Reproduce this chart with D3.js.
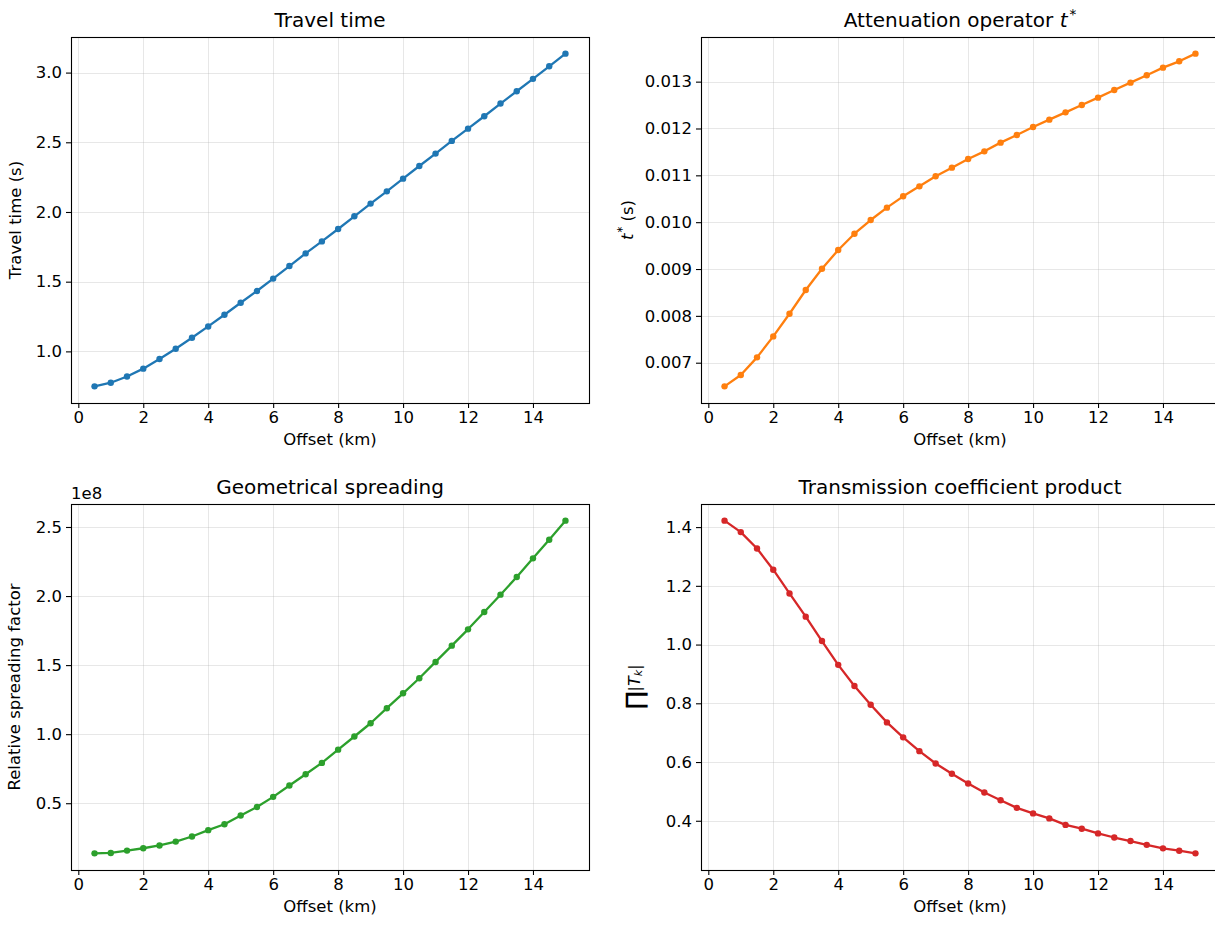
<!DOCTYPE html>
<html lang="en">
<head>
<meta charset="UTF-8">
<title>Ray quantities versus offset</title>
<script src="https://d3js.org/d3.v7.min.js"></script>
<style>
  body { margin: 0; background: white; }
  text { font-family: "DejaVu Sans", sans-serif; fill: #000; }
</style>
</head>
<body>
<script>
// offsets in km
var offsets = [0.5, 1.0, 1.5, 2.0, 2.5, 3.0, 3.5, 4.0, 4.5, 5.0,
               5.5, 6.0, 6.5, 7.0, 7.5, 8.0, 8.5, 9.0, 9.5, 10.0,
               10.5, 11.0, 11.5, 12.0, 12.5, 13.0, 13.5, 14.0, 14.5, 15.0];

var travelTime = [0.749, 0.775, 0.820, 0.876, 0.945, 1.019, 1.098, 1.179, 1.263, 1.349,
                  1.433, 1.522, 1.612, 1.703, 1.789, 1.878, 1.969, 2.060, 2.148, 2.239,
                  2.330, 2.419, 2.510, 2.598, 2.687, 2.778, 2.866, 2.955, 3.045, 3.136];

var tStar = [0.006495, 0.006737, 0.007114, 0.007562, 0.008046, 0.008552, 0.009007, 0.009406, 0.009754, 0.010046,
             0.010310, 0.010552, 0.010765, 0.010979, 0.011164, 0.011349, 0.011512, 0.011698, 0.011861, 0.012032,
             0.012189, 0.012345, 0.012502, 0.012658, 0.012822, 0.012979, 0.013135, 0.013299, 0.013434, 0.013598];

var spreading = [1.37e7, 1.40e7, 1.57e7, 1.74e7, 1.94e7, 2.22e7, 2.59e7, 3.05e7, 3.48e7, 4.11e7,
                 4.73e7, 5.46e7, 6.28e7, 7.10e7, 7.92e7, 8.88e7, 9.83e7, 1.079e8, 1.188e8, 1.296e8,
                 1.405e8, 1.523e8, 1.641e8, 1.759e8, 1.885e8, 2.010e8, 2.138e8, 2.273e8, 2.408e8, 2.546e8];

var transmission = [1.422, 1.383, 1.327, 1.255, 1.174, 1.095, 1.012, 0.931, 0.859, 0.795,
                    0.735, 0.684, 0.637, 0.595, 0.560, 0.527, 0.496, 0.470, 0.444, 0.425,
                    0.408, 0.386, 0.373, 0.357, 0.343, 0.331, 0.318, 0.306, 0.298, 0.289];

var xTicks = [0, 2, 4, 6, 8, 10, 12, 14];
var travelTicks = [1.0, 1.5, 2.0, 2.5, 3.0];
var tStarTicks = [0.007, 0.008, 0.009, 0.010, 0.011, 0.012, 0.013];
var spreadTicks = [0.5e8, 1.0e8, 1.5e8, 2.0e8, 2.5e8];
var transTicks = [0.4, 0.6, 0.8, 1.0, 1.2, 1.4];

var svg = d3.select("body").append("svg")
    .attr("width", 1215).attr("height", 926)
    .style("background", "white");

var pw = 518, ph = 366;
var tickFont = "16.5px", labelFont = "16.5px", titleFont = "20px";

function padded(ext) {
  var m = (ext[1] - ext[0]) * 0.05;
  return [ext[0] - m, ext[1] + m];
}

function panel(o) {
  var g = svg.append("g").attr("transform", "translate(" + o.left + "," + o.top + ")");

  var x = d3.scaleLinear().domain(padded(d3.extent(offsets))).range([0, pw]);
  var y = d3.scaleLinear().domain(padded(d3.extent(o.values))).range([ph, 0]);

  // grid
  g.append("g").selectAll("line").data(xTicks).join("line")
    .attr("x1", d => Math.round(x(d)) + 0.5).attr("x2", d => Math.round(x(d)) + 0.5)
    .attr("y1", 0).attr("y2", ph)
    .attr("stroke", "#b0b0b0").attr("stroke-opacity", 0.3).attr("stroke-width", 1);
  g.append("g").selectAll("line").data(o.ticks).join("line")
    .attr("y1", d => Math.round(y(d)) + 0.5).attr("y2", d => Math.round(y(d)) + 0.5)
    .attr("x1", 0).attr("x2", pw)
    .attr("stroke", "#b0b0b0").attr("stroke-opacity", 0.3).attr("stroke-width", 1);

  // axes
  var xAxis = g.append("g").attr("transform", "translate(0," + ph + ")")
    .call(d3.axisBottom(x).tickValues(xTicks).tickFormat(d3.format("d")).tickSize(5).tickPadding(3));
  var yAxis = g.append("g")
    .call(d3.axisLeft(y).tickValues(o.ticks).tickFormat(o.fmt).tickSize(5).tickPadding(4));
  [xAxis, yAxis].forEach(function (a) {
    a.select(".domain").remove();
    a.selectAll("line").attr("stroke", "#000").attr("stroke-width", 1.1);
    a.selectAll("text").attr("font-size", tickFont).attr("font-family", "DejaVu Sans").attr("fill", "#222");
  });

  // line + markers
  var pts = offsets.map((d, i) => [d, o.values[i]]);
  g.append("path").datum(pts)
    .attr("fill", "none").attr("stroke", o.color).attr("stroke-width", 2.3)
    .attr("stroke-linejoin", "round")
    .attr("d", d3.line().x(d => x(d[0])).y(d => y(d[1])));
  g.append("g").selectAll("circle").data(pts).join("circle")
    .attr("cx", d => x(d[0])).attr("cy", d => y(d[1])).attr("r", 3.2)
    .attr("fill", o.color);

  // frame
  g.append("rect").attr("x", 0.5).attr("y", 0.5).attr("width", pw).attr("height", ph)
    .attr("fill", "none").attr("stroke", "#000").attr("stroke-width", 1.1);

  // title
  var t = g.append("text").attr("x", pw / 2).attr("y", -10)
    .attr("text-anchor", "middle").attr("font-size", titleFont).attr("fill", "#111");
  o.title(t);

  // x label
  g.append("text").attr("x", pw / 2).attr("y", ph + 42)
    .attr("text-anchor", "middle").attr("font-size", labelFont).attr("fill", "#222").text("Offset (km)");

  // y label
  var yl = g.append("text")
    .attr("transform", "translate(" + o.ylabX + "," + ph / 2 + ") rotate(-90)")
    .attr("text-anchor", "middle").attr("font-size", labelFont).attr("fill", "#222");
  o.ylabel(yl);
  return g;
}

panel({
  left: 71, top: 37, values: travelTime, color: "#1f77b4", ticks: travelTicks,
  fmt: d3.format(".1f"), ylabX: -50,
  title: t => t.text("Travel time"),
  ylabel: t => t.text("Travel time (s)")
});

panel({
  left: 701, top: 37, values: tStar, color: "#ff7f0e", ticks: tStarTicks,
  fmt: d3.format(".3f"), ylabX: -68,
  title: function (t) {
    t.append("tspan").text("Attenuation operator ");
    t.append("tspan").attr("font-style", "italic").text("t");
    t.append("tspan").attr("font-size", "13.5px").attr("dy", -8).attr("dx", 2).text("*");
  },
  ylabel: function (t) {
    t.append("tspan").attr("font-style", "italic").text("t");
    t.append("tspan").attr("font-size", "11.5px").attr("dy", -7).attr("dx", 1).text("*");
    t.append("tspan").attr("dy", 7).text(" (s)");
  }
});

var bl = panel({
  left: 71, top: 504, values: spreading, color: "#2ca02c", ticks: spreadTicks,
  fmt: d => (d / 1e8).toFixed(1), ylabX: -51,
  title: t => t.text("Geometrical spreading"),
  ylabel: t => t.text("Relative spreading factor")
});
bl.append("text").attr("x", 0).attr("y", -5).attr("font-size", tickFont).attr("fill", "#222").text("1e8");

panel({
  left: 701, top: 504, values: transmission, color: "#d62728", ticks: transTicks,
  fmt: d3.format(".1f"), ylabX: -60,
  title: t => t.text("Transmission coefficient product"),
  ylabel: function (t) {
    t.append("tspan").attr("font-size", "24px").attr("dy", 2).text("\u220F");
    t.append("tspan").attr("font-size", "16px").attr("dy", -3).text("|");
    t.append("tspan").attr("font-size", "16px").attr("font-style", "italic").text("T");
    t.append("tspan").attr("font-size", "11px").attr("font-style", "italic").attr("dy", 2).text("k");
    t.append("tspan").attr("font-size", "16px").attr("dy", -2).text("|");
  }
});
</script>
</body>
</html>
